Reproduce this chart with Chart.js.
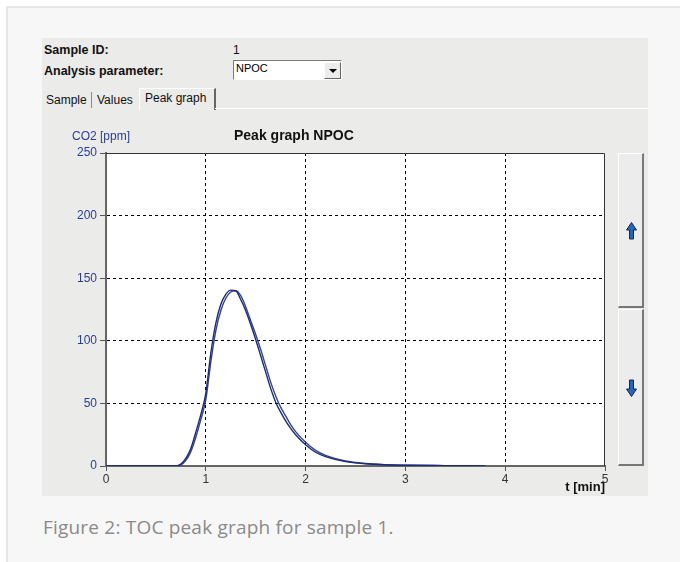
<!DOCTYPE html>
<html>
<head>
<meta charset="utf-8">
<script src="https://cdn.jsdelivr.net/npm/chart.js@4.4.0/dist/chart.umd.min.js"></script>
<style>
  html, body { margin: 0; padding: 0; background: #fff; }
  body { width: 680px; height: 562px; position: relative; overflow: hidden;
         font-family: "Liberation Sans", Arial, sans-serif; }
  .abs { position: absolute; white-space: nowrap; }
  #frame { left: 6px; top: 6px; right: 0; bottom: 0; background: #f7f7f7;
           border-top: 2px solid #e6e6e6; border-left: 2px solid #e6e6e6; }
  #panel { left: 42px; top: 38px; width: 606px; height: 458px; background: #ebebe9; }
  .bold { font-weight: bold; color: #111; font-size: 12.5px; line-height: 14px; }
  .ui { font-size: 12px; line-height: 14px; color: #111; }
  #select { left: 233px; top: 60px; width: 107px; height: 18px; background: #fff;
            border-top: 1px solid #7a7a7a; border-left: 1px solid #7a7a7a;
            border-bottom: 1px solid #fff; border-right: 1px solid #fff; }
  #drop { left: 324px; top: 62px; width: 15px; height: 15px; background: #ececec;
          border-top: 1px solid #fff; border-left: 1px solid #fff;
          border-bottom: 1px solid #666; border-right: 1px solid #666; }
  #drop:after { content: ""; position: absolute; left: 4px; top: 6px;
                border-left: 4px solid transparent; border-right: 4px solid transparent;
                border-top: 4px solid #000; }
  .tab { font-size: 12px; line-height: 14px; color: #111; }
  #activeTab { left: 139px; top: 88px; width: 74px; height: 21px; background: #ebebe9;
               border-left: 1px solid #fff; border-top: 1px solid #fff; border-right: 2px solid #666; }
  .sep { width: 1px; background: #8a8a8a; }
  #tabLine { left: 215px; top: 108px; width: 433px; height: 1px; background: #fff; }
  .btn { width: 23px; background: #ececec; border-top: 1px solid #fff; border-left: 1px solid #fff;
         border-right: 2px solid #777; border-bottom: 2px solid #777; }
  #chartBox { left: 42px; top: 110px; width: 575px; height: 386px; }
  #caption { left: 43px; top: 514px; font-family: "Open Sans", "Noto Sans", sans-serif;
             font-size: 19px; line-height: 26px; letter-spacing: 0.2px; color: #8a8a8a; }
</style>
</head>
<body>
<div id="frame" class="abs"></div>
<div id="panel" class="abs"></div>

<div class="abs bold" style="left:44px; top:43px;">Sample ID:</div>
<div class="abs ui" style="left:233px; top:43px;">1</div>
<div class="abs bold" style="left:44px; top:64px;">Analysis parameter:</div>
<div id="select" class="abs"></div>
<div class="abs" style="left:236px; top:62px; font-size:11px; line-height:13px; color:#000;">NPOC</div>
<div id="drop" class="abs"></div>

<div class="abs sep" style="left:91px; top:92px; height:16px;"></div>
<div class="abs tab" style="left:46px; top:93px;">Sample</div>
<div class="abs tab" style="left:97px; top:93px;">Values</div>
<div id="activeTab" class="abs"></div>
<div class="abs tab" style="left:145px; top:91px;">Peak graph</div>
<div id="tabLine" class="abs"></div>

<div id="chartBox" class="abs"><canvas id="peak" width="575" height="386"></canvas></div>
<div class="abs" style="left:72px; top:129px; font-size:12px; line-height:14px; color:#2b3d93;">CO2 [ppm]</div>
<div class="abs" style="left:234px; top:127px; font-size:14px; line-height:16px; font-weight:bold; color:#111;">Peak graph NPOC</div>

<div class="abs btn" style="left:618px; top:153px; height:152px;"></div>
<div class="abs btn" style="left:618px; top:309px; height:154px;"></div>
<svg class="abs" style="left:626px; top:222px;" width="11" height="18" viewBox="0 0 11 18">
  <polygon points="5.5,0.5 10.5,8 7.5,8 7.5,17 3.5,17 3.5,8 0.5,8" fill="#2a64b8" stroke="#14284f" stroke-width="1"/>
</svg>
<svg class="abs" style="left:626px; top:379px;" width="11" height="18" viewBox="0 0 11 18">
  <polygon points="5.5,17.5 10.5,10 7.5,10 7.5,1 3.5,1 3.5,10 0.5,10" fill="#2a64b8" stroke="#14284f" stroke-width="1"/>
</svg>

<div id="caption" class="abs">Figure 2: TOC peak graph for sample 1.</div>

<script>
// time axis in minutes, CO2 in ppm, two overlaid replicate runs
const timeMin = [0, 0.5, 0.7, 0.75, 0.8, 0.85, 0.9, 0.95, 1.0, 1.05,
                 1.1, 1.15, 1.2, 1.25, 1.3, 1.35, 1.4, 1.45, 1.5, 1.55,
                 1.6, 1.65, 1.7, 1.75, 1.8, 1.85, 1.9, 2.0, 2.1, 2.2,
                 2.4, 2.6, 2.8, 3.0, 3.4, 3.8];
const co2RunA = [0, 0, 0, 1.5, 6, 14, 27, 41, 58, 90,
                 114, 129, 137, 140.5, 140, 133, 124, 113, 101, 88,
                 75, 62, 51, 43, 36, 30, 25, 17, 11, 7.5,
                 3.5, 1.8, 1.0, 0.6, 0.3, 0];
const co2RunB = [0, 0, 0, 0.8, 4.5, 11.5, 23, 37, 53, 83,
                 108, 124, 134, 139, 140, 136, 127, 116, 105, 93,
                 80, 67, 56, 47, 40, 33, 27.5, 19, 12.5, 8.5,
                 4, 2, 1.1, 0.7, 0.3, 0];
const xTicks = [0, 1, 2, 3, 4, 5];
const yTicks = [0, 50, 100, 150, 200, 250];

const FONT = '"Liberation Sans", Arial, sans-serif';

const toPoints = (ys) => timeMin.map((t, i) => ({ x: t, y: ys[i] }));
const edgeColor = (list) => (c) =>
  (c.tick && (c.tick.value === list[0] || c.tick.value === list[list.length - 1])) ? 'rgba(0,0,0,0)' : '#000';

// white plot background + dark top/right frame
const plotFrame = {
  id: 'plotFrame',
  beforeDraw(chart) {
    const { ctx, chartArea: a } = chart;
    ctx.save();
    ctx.fillStyle = '#fff';
    ctx.fillRect(a.left, a.top, a.width, a.height);
    ctx.restore();
  },
  afterDraw(chart) {
    const { ctx, chartArea: a } = chart;
    ctx.save();
    ctx.strokeStyle = '#333';
    ctx.lineWidth = 1;
    ctx.beginPath();
    ctx.moveTo(a.left, a.top + 0.5);
    ctx.lineTo(a.right - 0.5, a.top + 0.5);
    ctx.lineTo(a.right - 0.5, a.bottom);
    ctx.stroke();
    ctx.restore();
  }
};

new Chart(document.getElementById('peak'), {
  type: 'line',
  data: {
    datasets: [
      { data: toPoints(co2RunA), borderColor: '#1d2b72', borderWidth: 1.4 },
      { data: toPoints(co2RunB), borderColor: '#34448a', borderWidth: 1.4 }
    ].map(d => Object.assign(d, { pointRadius: 0, fill: false, cubicInterpolationMode: 'monotone' }))
  },
  options: {
    responsive: false,
    animation: false,
    layout: { padding: { left: 0, top: 43, right: 12, bottom: 0 } },
    plugins: { legend: { display: false }, tooltip: { enabled: false } },
    scales: {
      x: {
        type: 'linear',
        min: xTicks[0],
        max: xTicks[xTicks.length - 1],
        afterBuildTicks: (s) => { s.ticks = xTicks.map(v => ({ value: v })); },
        afterFit: (s) => { s.height = 30; },
        ticks: { color: '#333', font: { family: FONT, size: 12 }, padding: 1, maxRotation: 0, autoSkip: false },
        grid: { color: edgeColor(xTicks), lineWidth: 1, tickLength: 5, tickColor: '#555' },
        border: { display: true, color: '#666', width: 2, dash: [3, 3] },
        title: { display: true, text: 't [min]', align: 'end', color: '#111',
                 font: { family: FONT, size: 13, weight: 'bold' }, padding: { top: 0, bottom: 1 } }
      },
      y: {
        min: yTicks[0],
        max: yTicks[yTicks.length - 1],
        afterBuildTicks: (s) => { s.ticks = yTicks.map(v => ({ value: v })); },
        afterFit: (s) => { s.width = 64; },
        ticks: { color: '#2b3d93', font: { family: FONT, size: 12 }, padding: 3 },
        grid: { color: edgeColor(yTicks), lineWidth: 1, tickLength: 6, tickColor: '#555' },
        border: { display: true, color: '#666', width: 2, dash: [3, 3] }
      }
    }
  },
  plugins: [plotFrame]
});
</script>
</body>
</html>
